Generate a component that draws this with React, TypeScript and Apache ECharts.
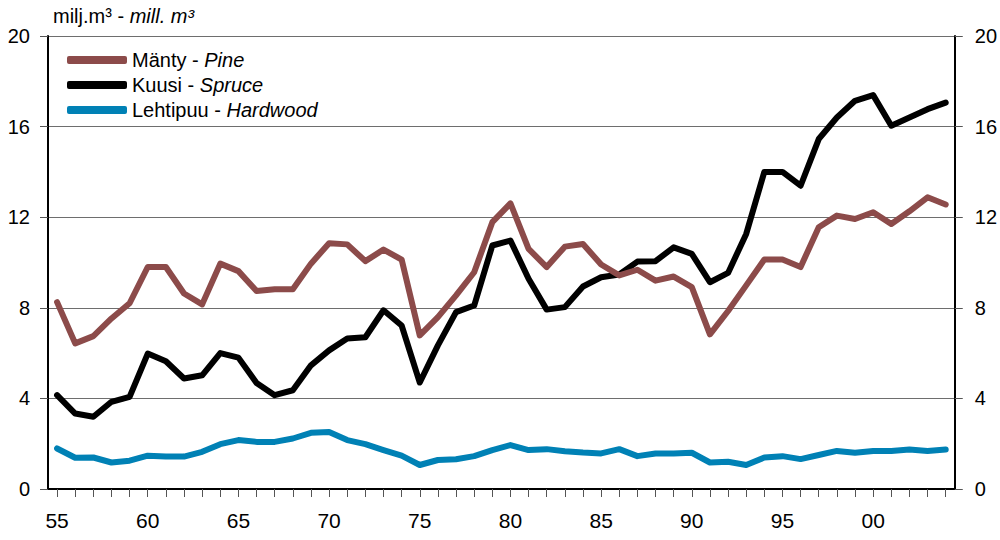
import React, { useEffect, useRef } from "react";
import * as echarts from "echarts";

const years: string[] = [];
for (let y = 1955; y <= 2004; y++) years.push(String(y));

const pine = [
  8.25, 6.43, 6.75, 7.53, 8.2, 9.8, 9.8, 8.63, 8.15, 9.95,
  9.62, 8.74, 8.82, 8.82, 9.95, 10.85, 10.8, 10.06, 10.57, 10.13,
  6.78, 7.59, 8.55, 9.57, 11.78, 12.61, 10.6, 9.8, 10.7, 10.82,
  9.91, 9.43, 9.68, 9.2, 9.38, 8.91, 6.83, 7.86, 8.99, 10.13,
  10.13, 9.8, 11.56, 12.07, 11.92, 12.22, 11.7, 12.26, 12.88, 12.56,
];
const spruce = [
  4.14, 3.33, 3.19, 3.85, 4.07, 5.98, 5.64, 4.88, 5.02, 6.0,
  5.8, 4.68, 4.14, 4.36, 5.46, 6.12, 6.64, 6.7, 7.89, 7.22,
  4.7, 6.34, 7.81, 8.1, 10.75, 10.97, 9.28, 7.92, 8.03, 8.94,
  9.35, 9.47, 10.04, 10.06, 10.67, 10.38, 9.13, 9.54, 11.26, 14.0,
  14.0, 13.39, 15.45, 16.4, 17.14, 17.39, 16.04, 16.4, 16.77, 17.06,
];
const hardwood = [
  1.79, 1.38, 1.39, 1.17, 1.25, 1.47, 1.43, 1.43, 1.64, 1.98,
  2.16, 2.08, 2.08, 2.23, 2.48, 2.52, 2.16, 1.98, 1.72, 1.47,
  1.06, 1.28, 1.31, 1.45, 1.72, 1.94, 1.72, 1.76, 1.67, 1.61,
  1.57, 1.76, 1.45, 1.57, 1.57, 1.6, 1.17, 1.2, 1.06, 1.39,
  1.45, 1.32, 1.5, 1.68, 1.6, 1.68, 1.68, 1.74, 1.68, 1.74,
];

const seriesNames = ["Mänty - Pine", "Kuusi - Spruce", "Lehtipuu - Hardwood"];
const seriesColors = ["#8c4b4a", "#000000", "#0081b5"];

const FONT = "'Liberation Sans Narrow', 'Arial Narrow', 'Liberation Sans', Arial, sans-serif";

export default function App() {
  const ref = useRef<HTMLDivElement>(null);
  useEffect(() => {
    if (!ref.current) return;
    const chart = echarts.init(ref.current, undefined, { renderer: "svg" });
    const yAxisBase = {
      type: "value",
      min: 0,
      max: 20,
      interval: 4,
      axisLine: { show: true, lineStyle: { color: "#000", width: 2 } },
      axisTick: { show: true, length: 8, lineStyle: { color: "#555", width: 1 } },
      axisLabel: { color: "#000", fontSize: 20, fontFamily: FONT, margin: 18 },
    };
    chart.setOption({
      animation: false,
      backgroundColor: "#fff",
      grid: { left: 48, right: 44, top: 36, bottom: 51, containLabel: false },
      graphic: [
        {
          type: "text",
          left: 53,
          top: 6,
          style: {
            text: "{a|milj.m³ - }{b|mill. m³}",
            rich: {
              a: { fontSize: 20, fontFamily: FONT, fill: "#000" },
              b: { fontSize: 20, fontFamily: FONT, fontStyle: "italic", fill: "#000" },
            },
          },
        },
      ],
      legend: {
        orient: "vertical",
        left: 62,
        top: 45,
        itemWidth: 60,
        itemHeight: 8,
        itemGap: 5,
        icon: "roundRect",
        data: seriesNames,
        formatter: (name: string) => {
          const parts = name.split(" - ");
          return `{a|${parts[0]} - }{b|${parts[1]}}`;
        },
        textStyle: {
          rich: {
            a: { fontSize: 20, fontFamily: FONT, color: "#000" },
            b: { fontSize: 20, fontFamily: FONT, fontStyle: "italic", color: "#000" },
          },
        },
      },
      xAxis: [
        {
          type: "category",
          data: years,
          boundaryGap: true,
          axisLine: { show: true, lineStyle: { color: "#000", width: 2 } },
          axisTick: { show: true, alignWithLabel: true, interval: 0, length: 8, lineStyle: { color: "#555", width: 1 } },
          axisLabel: {
            color: "#000",
            fontSize: 21,
            fontFamily: FONT,
            margin: 21,
            interval: (i: number) => i % 5 === 0,
            formatter: (v: string) => v.slice(2),
          },
          splitLine: { show: false },
        },
        {
          type: "category",
          data: years,
          position: "top",
          axisLine: { show: true, lineStyle: { color: "#000", width: 2 } },
          axisTick: { show: false },
          axisLabel: { show: false },
        },
      ],
      yAxis: [
        {
          ...yAxisBase,
          position: "left",
          splitLine: { show: true, lineStyle: { color: "#6e6e6e", width: 1 } },
        },
        {
          ...yAxisBase,
          position: "right",
          axisLabel: { ...yAxisBase.axisLabel, margin: 20 },
          splitLine: { show: false },
        },
      ],
      series: [
        { name: seriesNames[0], data: pine },
        { name: seriesNames[1], data: spruce },
        { name: seriesNames[2], data: hardwood },
      ].map((s, i) => ({
        ...s,
        type: "line",
        showSymbol: false,
        symbol: "none",
        color: seriesColors[i],
        lineStyle: { color: seriesColors[i], width: 6, join: "round", cap: "round" },
        z: 3 - i,
      })),
    });
    return () => chart.dispose();
  }, []);
  return <div ref={ref} style={{ width: 1000, height: 540, position: "absolute", left: 0, top: 0 }} />;
}
